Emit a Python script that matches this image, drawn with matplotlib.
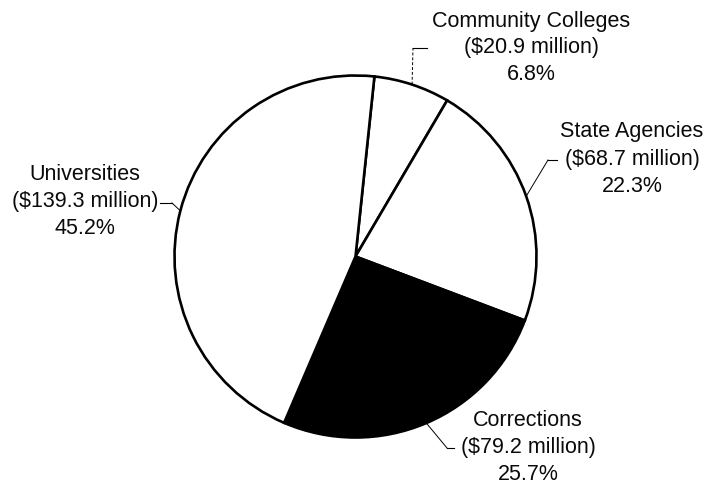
import numpy as np
import matplotlib
matplotlib.use("Agg")
import matplotlib.pyplot as plt

# Appropriations by recipient (millions of dollars)
categories = ["Community Colleges", "State Agencies", "Corrections", "Universities"]
amounts = [20.9, 68.7, 79.2, 139.3]
percent_labels = ["6.8%", "22.3%", "25.7%", "45.2%"]
amount_labels = ["($20.9 million)", "($68.7 million)", "($79.2 million)", "($139.3 million)"]
fill_colors = ["white", "white", "black", "white"]

W, H = 717, 487
fig = plt.figure(figsize=(W / 100, H / 100), dpi=100)
ax = fig.add_axes([0, 0, 1, 1])


def px(x, y):
    """Convert image-style pixel coords (y down) to axes coords (y up)."""
    return x, H - y


cx, cy = px(355.5, 256.5)
R = 181

wedges, _ = ax.pie(
    amounts,
    colors=fill_colors,
    startangle=84,
    counterclock=False,
    center=(cx, cy),
    radius=R,
    frame=True,
    wedgeprops=dict(edgecolor="black", linewidth=1.9, antialiased=True),
)
ax.set_xlim(0, W)
ax.set_ylim(0, H)
ax.set_aspect("equal")
ax.set_axis_off()

FONT = dict(family="Liberation Sans", fontsize=15.5, color="#0a0a0a")
LINE_STEP = 27

# label block center (x, first-line y) and leader elbow / end points
label_pos = {
    "Community Colleges": (531, 21),
    "State Agencies": (632, 132),
    "Corrections": (528, 420),
    "Universities": (85, 175),
}
leader_path = {
    "Community Colleges": [(413, 48), (427, 48)],
    "State Agencies": [(548, 160), (557, 160)],
    "Corrections": [(447, 448), (454, 448)],
    "Universities": [(172, 203), (160, 203)],
}

for w, name, amt, pct in zip(wedges, categories, amount_labels, percent_labels):
    mid = np.deg2rad((w.theta1 + w.theta2) / 2)
    x0 = cx + R * np.cos(mid)
    y0 = cy + R * np.sin(mid)
    pts = [(x0, y0)] + [px(*p) for p in leader_path[name]]
    xs, ys = zip(*pts)
    ls = (0, (3, 2)) if name == "Community Colleges" else "-"
    ax.plot(xs[:2], ys[:2], color="black", linewidth=0.7, linestyle=ls)
    ax.plot(xs[1:], ys[1:], color="black", linewidth=0.8)

    lx, ly = label_pos[name]
    for i, line in enumerate([name, amt, pct]):
        tx, ty = px(lx, ly + i * LINE_STEP)
        ax.text(tx, ty, line, ha="center", va="center", **FONT)

fig.savefig("out.png", dpi=100, facecolor="white")
